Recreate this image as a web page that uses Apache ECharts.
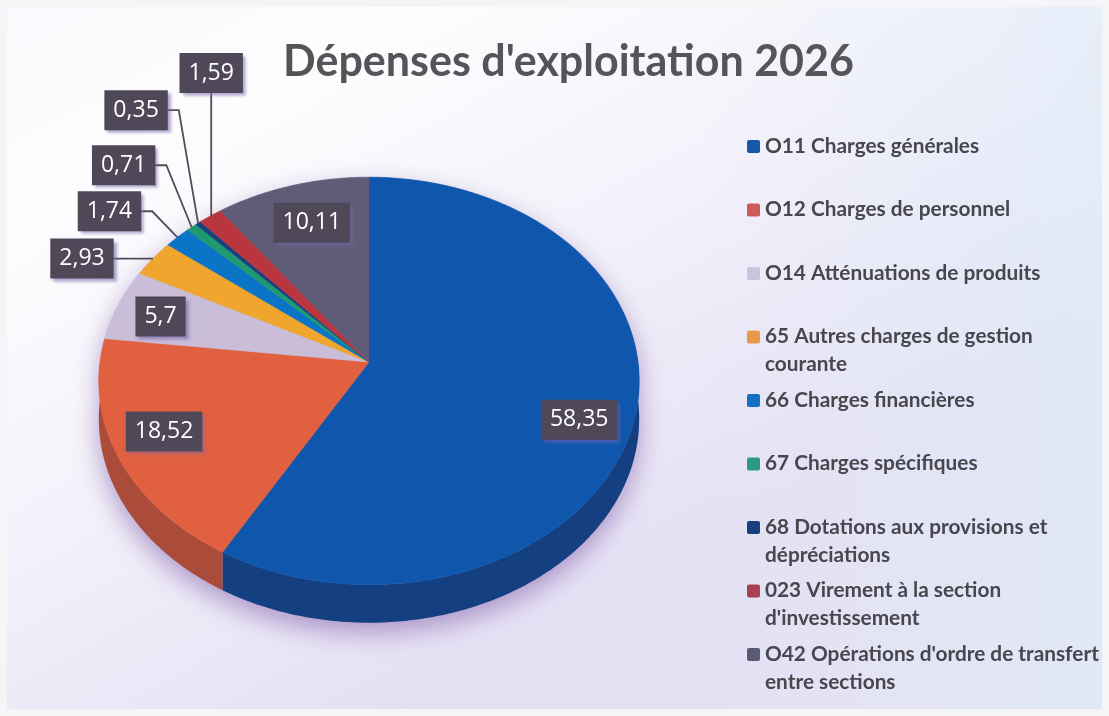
<!DOCTYPE html>
<html><head><meta charset="utf-8">
<style>html,body{margin:0;padding:0;background:#fff}#c{width:1109px;height:716px}</style>
<script src="https://cdn.jsdelivr.net/npm/echarts@6/dist/echarts.min.js"></script>
</head><body><div id="c"></div>
<script>
const titleText = "Dépenses d'exploitation 2026";
const categories = ["O11 Charges générales","O12 Charges de personnel","O14 Atténuations de produits","65 Autres charges de gestion\ncourante","66 Charges financières","67 Charges spécifiques","68 Dotations aux provisions et\ndépréciations","023 Virement à la section\nd'investissement","O42 Opérations d'ordre de transfert\nentre sections"];
const values = [58.35,18.52,5.7,2.93,1.74,0.71,0.35,1.59,10.11];
const valueLabels = ["58,35","18,52","5,7","2,93","1,74","0,71","0,35","1,59","10,11"];
const colors = ["#0f56ad","#e0603f","#c9bdd8","#efa52e","#0a74c6","#1f9a70","#1a3f80","#b9363f","#5f5c78"];
const sideColors = ["#143f80","#ab4c3a","#948aa0","#b07a22","#085592","#167052","#122d5c","#87272e","#45435a"];
const legendColors = ["#1558a8","#cf5a5a","#c8c4dc","#e89a4a","#1272c0","#2a9a85","#17407e","#a8404f","#5a5a70"];
// label offset from the slice's rim point
const labelDx = [-56,46,42,-71,-68,-68,-62,1,20];
const labelDy = [4,-25,12,0,-26,-62,-113,-143,37];
const hasLeader = [false,false,false,true,true,true,true,true,false];

const CX=369, CY=362, R=269, B=202, P=0.093, DEPTH=38;
const total = values.reduce((a,b)=>a+b,0);
const starts = []; values.reduce((a,v,i)=>(starts[i]=a,a+v),0);
const ang = v => v/total*2*Math.PI;
function proj(t, f=1, dy=0){
  const u=Math.sin(t)*f, v=-Math.cos(t)*f, d=1-P*v;
  return [CX+R*u/d, CY+B*v/d+dy];
}
function arc(a,b,dy=0){
  const pts=[], n=Math.max(2,Math.ceil(Math.abs(b-a)/0.012));
  for(let i=0;i<=n;i++) pts.push(proj(a+(b-a)*i/n,1,dy));
  return pts;
}
const F1 = 'bold 20.8px "Lato"';
const chart = echarts.init(document.getElementById('c'),null,{renderer:'canvas'});
const seriesData = categories.map((n,i)=>({name:n,value:values[i]}));
const common = {type:'custom',coordinateSystem:'none',silent:true,animation:false,clip:false};
chart.setOption({
  animation:false,
  backgroundColor:{type:'linear',x:0,y:0,x2:0.35,y2:1,colorStops:[{offset:0,color:'#f8f9fc'},{offset:0.25,color:'#fdfdfe'},{offset:0.6,color:'#f3f1fa'},{offset:1,color:'#e4e0f4'}]},
  graphic:[
    {type:'rect',z:-10,shape:{x:700,y:0,width:409,height:716},style:{fill:{type:'linear',x:0,y:0,x2:1,y2:0,colorStops:[{offset:0,color:'rgba(225,240,250,0)'},{offset:1,color:'rgba(222,238,250,0.55)'}]}}},
    {type:'rect',z:-9,shape:{x:0,y:0,width:1109,height:716},style:{fill:'none',stroke:'#f5f5f7',lineWidth:14}}
  ],
  title:{text:titleText,left:283,top:41,padding:0,textStyle:{fontFamily:'Lato',fontWeight:'bold',fontSize:43,color:'#555458'}},
  series:[
    {...common,name:'ombre',z:1,data:[1],renderItem(){
      const pts=[...arc(1.5*Math.PI,2.5*Math.PI),...arc(Math.PI/2,1.5*Math.PI,DEPTH)];
      return {type:'polygon',shape:{points:pts},style:{fill:'#b7a8cf',shadowColor:'rgba(130,95,170,0.6)',shadowBlur:26,shadowOffsetX:0,shadowOffsetY:10}};
    }},
    {...common,name:'côtés',z:2,data:seriesData,renderItem(p){
      const i=p.dataIndex, a=ang(starts[i]), b=a+ang(values[i]);
      const lo=Math.max(a,Math.PI/2), hi=Math.min(b,1.5*Math.PI);
      if(hi<=lo) return {type:'group',children:[]};
      const pts=[...arc(lo,hi),...arc(hi,lo,DEPTH)];
      return {type:'polygon',shape:{points:pts},style:{fill:sideColors[i]}};
    }},
    {...common,name:'Dépenses',z:3,data:seriesData,renderItem(p){
      const i=p.dataIndex, a=ang(starts[i]), b=a+ang(values[i]);
      return {type:'polygon',shape:{points:[[CX,CY],...arc(a,b)]},style:{fill:colors[i],stroke:colors[i],lineWidth:0.6}};
    }},
    {...common,name:'étiquettes',z:4,data:seriesData,renderItem(p){
      const i=p.dataIndex, t=ang(starts[i]+values[i]/2), [rx,ry]=proj(t);
      const bx=rx+labelDx[i], by=ry+labelDy[i], children=[];
      const text=valueLabels[i];
      const hw=(text.length*13.1-7+18)/2;
      if(hasLeader[i]){
        const pts=i===7?[[bx,by],[bx,ry]]:[[bx,by],[bx+hw+11,by],[rx,ry]];
        children.push({type:'polyline',shape:{points:pts},style:{stroke:'#4f4d59',lineWidth:1.8,fill:'none'}});
      }
      children.push({type:'text',style:{text,x:bx,y:by,align:'center',verticalAlign:'middle',fill:'#fff',font:'23px "Open Sans"',lineHeight:26,backgroundColor:'#4e4859',padding:[7,9],shadowColor:'rgba(120,100,170,0.6)',shadowBlur:3,shadowOffsetX:3,shadowOffsetY:3}});
      return {type:'group',children};
    }},
    {...common,name:'légende',z:5,data:seriesData,renderItem(p){
      const i=p.dataIndex, y=146+i*63.5;
      return {type:'group',children:[
        {type:'rect',shape:{x:747,y:y-6,width:13,height:13,r:2},style:{fill:legendColors[i]}},
        {type:'text',style:{text:categories[i],x:765,y:y-14,align:'left',verticalAlign:'top',fill:'#47474d',font:F1,lineHeight:28}}
      ]};
    }}
  ]
});
</script></body></html>
